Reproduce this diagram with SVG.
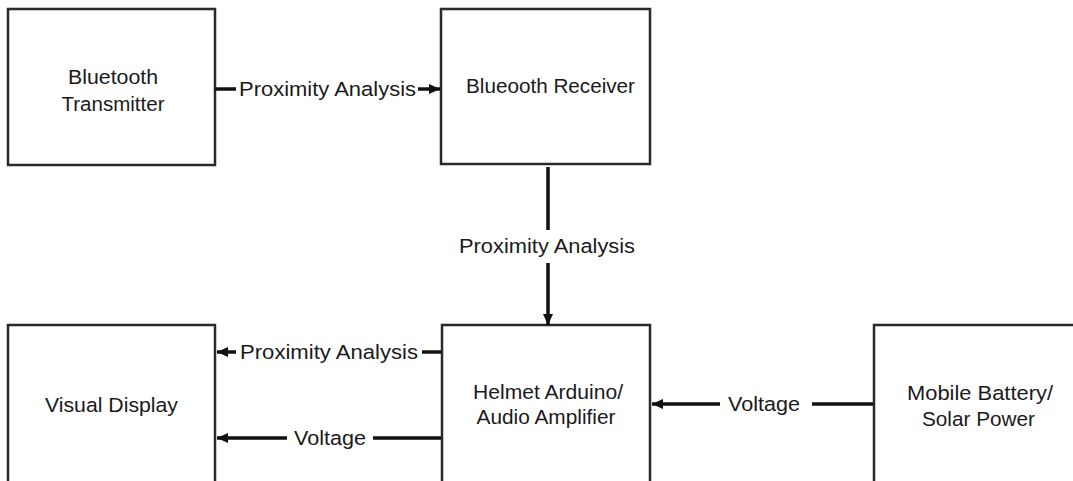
<svg xmlns="http://www.w3.org/2000/svg" width="1073" height="481" viewBox="0 0 1073 481">
<style>
.box{fill:#fff;stroke:#2a2a2a;stroke-width:2.5}
.t{font-family:"Liberation Sans",Arial,sans-serif;font-size:20.5px;fill:#1a1a1a;text-anchor:middle}
.c{fill:none;stroke:#111;stroke-width:3.5}
</style>
<defs>
<marker id="ah" markerUnits="userSpaceOnUse" markerWidth="12" markerHeight="12" refX="11" refY="6" orient="auto">
<path d="M0,1 L11,6 L0,11 z" fill="#111"/>
</marker>
</defs>
<rect width="1073" height="481" fill="#fff"/>
<g id="bt-transmitter">
<rect class="box" x="8" y="9" width="207" height="156"/>
<text class="t" x="113" y="84" textLength="90" lengthAdjust="spacingAndGlyphs">Bluetooth</text>
<text class="t" x="113" y="111" textLength="103" lengthAdjust="spacingAndGlyphs">Transmitter</text>
</g>
<g id="bt-receiver">
<rect class="box" x="441" y="9" width="209" height="155"/>
<text class="t" x="550.5" y="93" textLength="169" lengthAdjust="spacingAndGlyphs">Blueooth Receiver</text>
</g>
<g id="visual-display">
<rect class="box" x="8" y="325" width="207" height="170"/>
<text class="t" x="111.5" y="412" textLength="133" lengthAdjust="spacingAndGlyphs">Visual Display</text>
</g>
<g id="helmet">
<rect class="box" x="442" y="325" width="208" height="170"/>
<text class="t" x="548" y="399" textLength="150" lengthAdjust="spacingAndGlyphs">Helmet Arduino/</text>
<text class="t" x="546" y="424" textLength="139" lengthAdjust="spacingAndGlyphs">Audio Amplifier</text>
</g>
<g id="battery">
<rect class="box" x="874" y="325" width="220" height="170"/>
<text class="t" x="980" y="400" textLength="146" lengthAdjust="spacingAndGlyphs">Mobile Battery/</text>
<text class="t" x="978.5" y="426" textLength="113" lengthAdjust="spacingAndGlyphs">Solar Power</text>
</g>
<g id="connectors">
<path class="c" d="M215,89 H236"/>
<path class="c" d="M418,89 H440" marker-end="url(#ah)"/>
<text class="t" x="327.5" y="96" textLength="177" lengthAdjust="spacingAndGlyphs">Proximity Analysis</text>

<path class="c" d="M548,167 V230"/>
<path class="c" d="M548,263 V325" marker-end="url(#ah)"/>
<text class="t" x="547" y="253" textLength="176" lengthAdjust="spacingAndGlyphs">Proximity Analysis</text>

<path class="c" d="M441,352 H422"/>
<path class="c" d="M236,352 H217" marker-end="url(#ah)"/>
<text class="t" x="329" y="359" textLength="178" lengthAdjust="spacingAndGlyphs">Proximity Analysis</text>

<path class="c" d="M441,438 H373"/>
<path class="c" d="M287,438 H217" marker-end="url(#ah)"/>
<text class="t" x="330" y="445" textLength="72" lengthAdjust="spacingAndGlyphs">Voltage</text>

<path class="c" d="M873,404 H812"/>
<path class="c" d="M720,404 H652" marker-end="url(#ah)"/>
<text class="t" x="764" y="411" textLength="72" lengthAdjust="spacingAndGlyphs">Voltage</text>
</g>
</svg>
